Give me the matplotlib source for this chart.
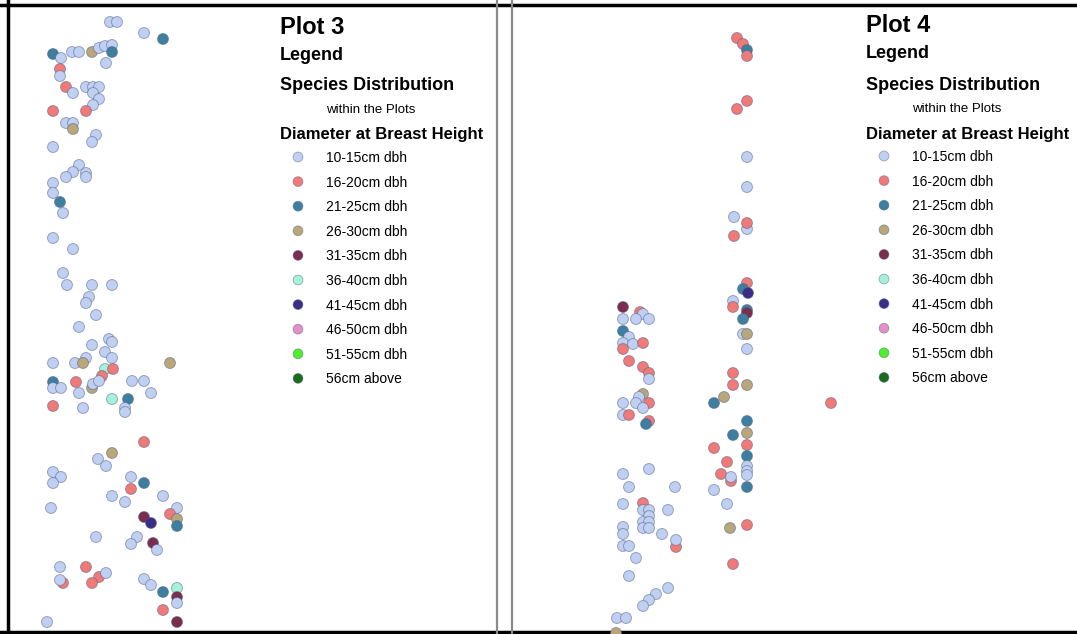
import numpy as np
import matplotlib
matplotlib.use("Agg")
import matplotlib.pyplot as plt

plt.rcParams['font.family'] = ['Liberation Sans', 'DejaVu Sans']

# dbh classes and their map colours
dbh_labels = ['10-15cm dbh', '16-20cm dbh', '21-25cm dbh', '26-30cm dbh',
              '31-35cm dbh', '36-40cm dbh', '41-45cm dbh', '46-50cm dbh',
              '51-55cm dbh', '56cm above']
dbh_colors = ['#bfd0f2', '#f07a78', '#3e7fa0', '#b9a77a', '#7b2d4e',
              '#a5f2d8', '#3b2e87', '#e58fc8', '#4ef02c', '#1e6a1c']

# tree positions (map units), y grows downwards
plot3_x = [110, 117, 144, 163, 53, 61, 72, 79, 92, 99, 105, 112, 112, 106,
           60, 60, 66, 73, 86, 93, 99, 93, 99, 93, 86, 53,
           66, 73, 73, 96, 92, 53,
           79, 73, 86, 86, 66, 53, 53, 60, 63,
           53, 73, 63, 67, 92, 112, 89, 86, 96, 79,
           109, 112, 92, 105, 112, 86, 53, 75, 83, 170,
           105, 113, 102, 53, 53, 61, 76, 92, 93, 99, 132, 144, 151, 79, 112, 128, 125, 125, 53, 83,
           144, 112, 98, 106, 53, 61, 53, 131, 144, 131, 112, 125, 163, 51, 177, 170, 177, 177, 144, 151,
           96, 137, 131, 153, 157,
           63, 60, 60, 86, 99, 92, 106, 144, 151, 163, 177, 177, 177, 163, 177, 47]
plot3_y = [22, 22, 33, 39, 54, 58, 52, 52, 52, 48, 46, 45, 52, 63,
           69, 76, 87, 93, 87, 87, 87, 93, 99, 105, 111, 111,
           123, 123, 129, 135, 142, 147,
           165, 172, 173, 177, 177, 183, 193, 202, 213,
           238, 249, 273, 285, 285, 285, 297, 303, 315, 327,
           339, 342, 345, 352, 358, 358, 363, 363, 363, 363,
           369, 369, 376, 382, 388, 388, 382, 388, 384, 381, 381, 381, 393, 393, 399, 399, 408, 412, 406, 408,
           442, 453, 459, 466, 472, 477, 483, 477, 483, 489, 496, 502, 496, 508, 508, 514, 519, 526, 517, 523,
           537, 537, 544, 543, 550,
           583, 567, 580, 567, 577, 583, 573, 579, 585, 592, 588, 597, 603, 610, 622, 622]
plot3_cls = [0, 0, 0, 2, 2, 0, 0, 0, 3, 0, 0, 0, 2, 0,
             1, 0, 1, 0, 0, 0, 0, 0, 0, 0, 1, 1,
             0, 0, 3, 0, 0, 0,
             0, 0, 0, 0, 0, 0, 0, 2, 0,
             0, 0, 0, 0, 0, 0, 0, 0, 0, 0,
             0, 0, 0, 0, 0, 0, 0, 0, 3, 3,
             5, 1, 1, 2, 0, 0, 1, 3, 0, 0, 0, 0, 0, 0, 5, 2, 0, 0, 1, 0,
             1, 3, 0, 0, 0, 0, 0, 0, 2, 1, 0, 0, 0, 0, 0, 1, 3, 2, 4, 6,
             0, 0, 0, 4, 0,
             1, 0, 0, 1, 1, 1, 0, 0, 0, 2, 5, 4, 0, 1, 4, 0]

plot4_x = [737, 743, 747, 747, 737, 747, 747, 747,
           734, 747, 747, 734,
           747, 743, 748, 733, 733, 747, 747, 743,
           623, 640, 643, 623, 636, 649,
           623, 629, 623, 633, 643, 623,
           743, 747, 747,
           629, 643, 649, 649, 733, 733, 747,
           643, 639, 623, 636, 649, 643,
           623, 629, 649, 646, 724, 714, 831,
           747, 747, 733, 747, 714, 747,
           727, 747, 747, 747, 721, 731, 731, 714, 747,
           623, 649, 629, 675,
           623, 643, 643, 649, 649, 643, 649, 643, 649, 668, 727,
           623, 623, 662, 676, 676, 623, 629, 636,
           730, 747, 733,
           629, 668, 656, 649, 643, 617, 626, 616]
plot4_y = [38, 44, 50, 56, 109, 101, 157, 187,
           217, 229, 223, 236,
           283, 289, 293, 301, 307, 310, 313, 319,
           307, 312, 314, 319, 319, 319,
           331, 337, 343, 344, 343, 349,
           334, 334, 349,
           361, 367, 373, 379, 373, 385, 385,
           394, 397, 403, 403, 403, 408,
           415, 415, 421, 424, 397, 403, 403,
           421, 433, 435, 445, 448, 456,
           462, 466, 471, 475, 474, 481, 477, 490, 487,
           474, 469, 487, 487,
           504, 503, 510, 510, 516, 522, 522, 528, 528, 510, 504,
           527, 534, 534, 547, 540, 546, 546, 558,
           528, 525, 564,
           576, 588, 594, 600, 606, 618, 618, 633]
plot4_cls = [1, 1, 2, 1, 1, 1, 0, 0,
             0, 0, 1, 1,
             1, 2, 6, 0, 1, 2, 4, 2,
             4, 1, 0, 0, 0, 0,
             2, 0, 0, 0, 1, 1,
             0, 3, 0,
             1, 1, 1, 0, 1, 1, 3,
             3, 0, 0, 0, 1, 0,
             0, 1, 1, 2, 3, 2, 1,
             2, 3, 2, 1, 1, 2,
             1, 0, 0, 0, 1, 1, 0, 0, 2,
             0, 0, 0, 0,
             0, 1, 0, 0, 0, 0, 0, 0, 0, 0, 0,
             0, 0, 0, 1, 0, 0, 0, 0,
             3, 1, 1,
             0, 0, 0, 0, 0, 0, 0, 3]

panel_titles = ['Plot 3', 'Plot 4']

fig = plt.figure(figsize=(10.77, 6.34), dpi=100)
ax = fig.add_axes([0, 0, 1, 1])
ax.set_xlim(0, 1077)
ax.set_ylim(634, 0)
ax.axis('off')

edge = (0.30, 0.36, 0.52, 0.5)
msize = 62


def draw_trees(xs, ys, cls):
    cols = [dbh_colors[c] for c in cls]
    ax.scatter(xs, ys, s=msize, c=cols, edgecolors=[edge], linewidths=0.7, zorder=3)


draw_trees(plot3_x, plot3_y, plot3_cls)
draw_trees(plot4_x, plot4_y, plot4_cls)


def draw_legend(x0, y0, title, step=24.6):
    ax.text(x0, y0 + 3, title, fontsize=17, fontweight='bold', va='center')
    ax.text(x0, y0 + 31, 'Legend', fontsize=13, fontweight='bold', va='center')
    ax.text(x0, y0 + 62, 'Species Distribution', fontsize=13, fontweight='bold', va='center')
    ax.text(x0 + 46, y0 + 86, 'within the Plots', fontsize=9.5, va='center')
    ax.text(x0, y0 + 111, 'Diameter at Breast Height', fontsize=12, fontweight='bold', va='center')
    ys = y0 + 133 + step * np.arange(len(dbh_labels))
    ax.scatter(np.full(len(ys), x0 + 18), ys, s=50, c=dbh_colors,
               edgecolors=[edge], linewidths=0.6, zorder=3)
    for yy, lab in zip(ys, dbh_labels):
        ax.text(x0 + 46, yy + 1, lab, fontsize=10, va='center')


draw_legend(280, 24, panel_titles[0])
draw_legend(866, 23, panel_titles[1])

# frame and panel dividers
ax.axhline(5, color='black', lw=2.5)
ax.axhline(632, color='black', lw=2.5)
ax.axvline(8, color='black', lw=2.5)
ax.axvline(497, color='#8a8a8a', lw=1.6)
ax.axvline(512, color='#8a8a8a', lw=1.6)

fig.savefig('out.png', dpi=100)
